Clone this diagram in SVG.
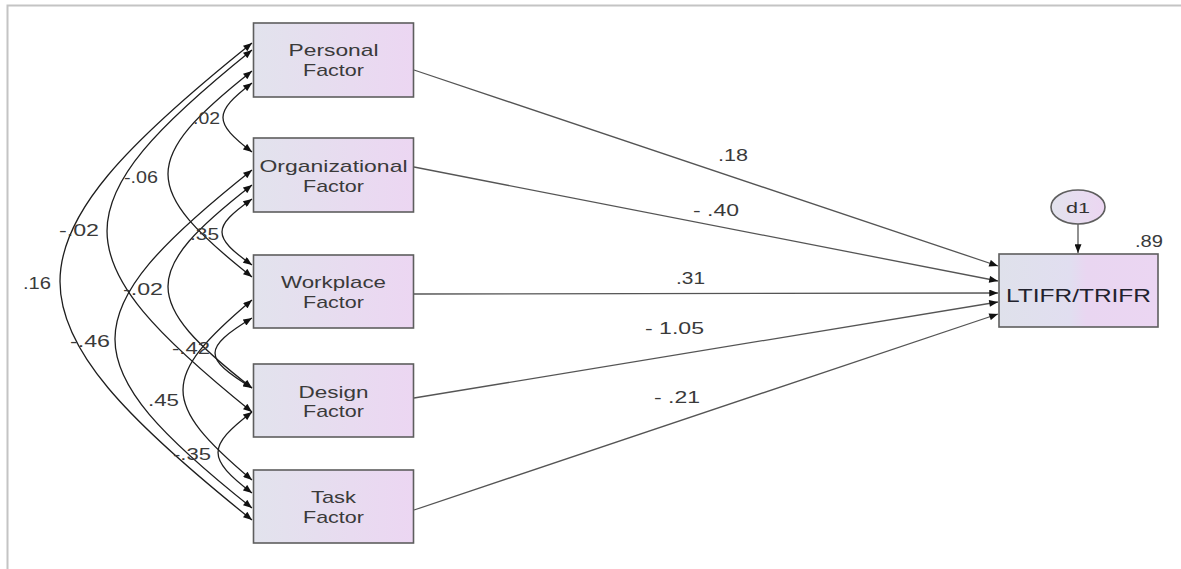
<svg xmlns="http://www.w3.org/2000/svg" width="1181" height="569" viewBox="0 0 1181 569">
<defs>
<linearGradient id="boxg" x1="0" y1="0" x2="1" y2="0">
<stop offset="0" stop-color="#e2e3ed"/>
<stop offset="1" stop-color="#ecd6f2"/>
</linearGradient>
<linearGradient id="outg" x1="0" y1="0" x2="1" y2="0">
<stop offset="0" stop-color="#dfe1eb"/>
<stop offset="0.45" stop-color="#e1def0"/>
<stop offset="0.55" stop-color="#e9d6f1"/>
<stop offset="1" stop-color="#ebd6f2"/>
</linearGradient>
<marker id="ah" viewBox="0 0 10 8" refX="10" refY="4" markerWidth="10" markerHeight="7" markerUnits="userSpaceOnUse" orient="auto-start-reverse">
<path d="M0,0 L10,4 L0,8 z" fill="#111"/>
</marker>
<style>
.box{fill:url(#boxg);stroke:#5e5e5e;stroke-width:1.6}
.lbl{font-family:"Liberation Sans",Arial,sans-serif;font-size:17px;fill:#3a3a3a;text-anchor:middle}
.num{font-family:"Liberation Sans",Arial,sans-serif;font-size:16px;fill:#3a3a3a}
.cov{fill:none;stroke:#1e1e1e;stroke-width:1.3;marker-start:url(#ah);marker-end:url(#ah)}
.path{fill:none;stroke:#555;stroke-width:1.3;marker-end:url(#ah)}
.frame{stroke:#c4c4c4;stroke-width:2;fill:none}
</style>
</defs>
<rect width="1181" height="569" fill="#fff"/>
<path class="frame" d="M7.5,569 L7.5,5.5 L1181,5.5"/>

<g id="connectors">
<!-- covariances -->
<path class="cov" d="M252,83 C213.3,112.7 213.3,122.3 252,152"/>
<path class="cov" d="M252,199 C212,227.4 212,236.6 252,265"/>
<path class="cov" d="M252,318 C202.7,348.1 202.7,357.9 252,388"/>
<path class="cov" d="M252,412 C206.7,446.8 206.7,458.2 252,493"/>
<path class="cov" d="M252,71 C140,159.6 140,188.4 252,277"/>
<path class="cov" d="M252,185 C140,272.3 140,300.7 252,388"/>
<path class="cov" d="M252,300 C160,377.4 160,402.6 252,480"/>
<path class="cov" d="M252,50 C58.7,205.7 58.7,256.3 252,412"/>
<path class="cov" d="M252,170 C69.3,315.3 69.3,362.7 252,508"/>
<path class="cov" d="M252,43 C-4,248.1 -4,314.9 252,520"/>
<!-- regressions -->
<path class="path" d="M414,70 L998,266"/>
<path class="path" d="M414,167 L998,281"/>
<path class="path" d="M414,294 L998,293"/>
<path class="path" d="M414,398 L998,302"/>
<path class="path" d="M414,510 L998,314"/>
<path class="path" d="M1078,224 L1078,253"/>
<!-- labels -->
<text class="num" x="193" y="124" textLength="27" lengthAdjust="spacingAndGlyphs">.02</text>
<text class="num" x="124" y="183" textLength="34" lengthAdjust="spacingAndGlyphs">-.06</text>
<text class="num" x="59" y="236" textLength="40" lengthAdjust="spacingAndGlyphs">-.02</text>
<text class="num" x="190" y="240" textLength="29" lengthAdjust="spacingAndGlyphs">.35</text>
<text class="num" x="23" y="289" textLength="28" lengthAdjust="spacingAndGlyphs">.16</text>
<text class="num" x="123" y="295" textLength="40" lengthAdjust="spacingAndGlyphs">-.02</text>
<text class="num" x="70" y="347" textLength="40" lengthAdjust="spacingAndGlyphs">-.46</text>
<text class="num" x="172" y="354" textLength="38" lengthAdjust="spacingAndGlyphs">-.42</text>
<text class="num" x="148" y="406" textLength="31" lengthAdjust="spacingAndGlyphs">.45</text>
<text class="num" x="173" y="460" textLength="38" lengthAdjust="spacingAndGlyphs">-.35</text>
<text class="num" x="718" y="161" textLength="30" lengthAdjust="spacingAndGlyphs">.18</text>
<text class="num" x="693" y="216" textLength="46" lengthAdjust="spacingAndGlyphs">- .40</text>
<text class="num" x="676" y="284" textLength="29" lengthAdjust="spacingAndGlyphs">.31</text>
<text class="num" x="645" y="334" textLength="59" lengthAdjust="spacingAndGlyphs">- 1.05</text>
<text class="num" x="654" y="403" textLength="46" lengthAdjust="spacingAndGlyphs">- .21</text>
<text class="num" x="1135" y="247" textLength="28" lengthAdjust="spacingAndGlyphs">.89</text>
</g>

<g id="personal">
<rect class="box" x="253.5" y="23" width="160" height="74"/>
<text class="lbl" x="333.5" y="56" textLength="90" lengthAdjust="spacingAndGlyphs">Personal</text>
<text class="lbl" x="333.5" y="76" textLength="61" lengthAdjust="spacingAndGlyphs">Factor</text>
</g>
<g id="organizational">
<rect class="box" x="253.5" y="138" width="160" height="74"/>
<text class="lbl" x="333.5" y="172" textLength="148" lengthAdjust="spacingAndGlyphs">Organizational</text>
<text class="lbl" x="333.5" y="192" textLength="61" lengthAdjust="spacingAndGlyphs">Factor</text>
</g>
<g id="workplace">
<rect class="box" x="253.5" y="255" width="160" height="73"/>
<text class="lbl" x="333.5" y="288" textLength="105" lengthAdjust="spacingAndGlyphs">Workplace</text>
<text class="lbl" x="333.5" y="308" textLength="61" lengthAdjust="spacingAndGlyphs">Factor</text>
</g>
<g id="design">
<rect class="box" x="253.5" y="364" width="160" height="73"/>
<text class="lbl" x="333.5" y="398" textLength="70" lengthAdjust="spacingAndGlyphs">Design</text>
<text class="lbl" x="333.5" y="417" textLength="61" lengthAdjust="spacingAndGlyphs">Factor</text>
</g>
<g id="task">
<rect class="box" x="253.5" y="470" width="160" height="73"/>
<text class="lbl" x="333.5" y="503" textLength="45" lengthAdjust="spacingAndGlyphs">Task</text>
<text class="lbl" x="333.5" y="523" textLength="61" lengthAdjust="spacingAndGlyphs">Factor</text>
</g>
<g id="ltifr">
<rect x="999" y="254" width="159" height="73" fill="url(#outg)" stroke="#5e5e5e" stroke-width="1.6"/>
<text x="1078.5" y="302" font-family="Liberation Sans, Arial, sans-serif" font-size="19" fill="#22222e" text-anchor="middle" textLength="145" lengthAdjust="spacingAndGlyphs">LTIFR/TRIFR</text>
</g>
<g id="d1">
<ellipse cx="1078" cy="207" rx="27" ry="17" fill="url(#boxg)" stroke="#5e5e5e" stroke-width="1.6"/>
<text x="1078" y="213" font-family="Liberation Sans, Arial, sans-serif" font-size="15" fill="#333" text-anchor="middle" textLength="24" lengthAdjust="spacingAndGlyphs">d1</text>
</g>
</svg>
